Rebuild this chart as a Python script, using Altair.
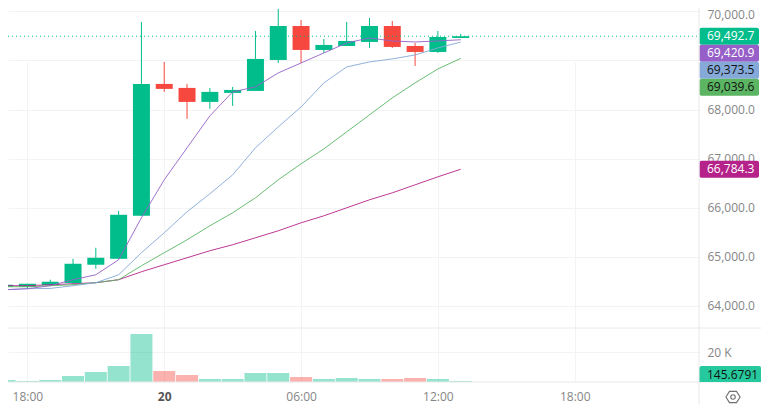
import altair as alt
import pandas as pd

FONT = "Open Sans"
UP, DOWN = "#00BD8B", "#F6483F"

# hours counted from the first 18:00 tick
hours = list(range(-1, 20))
opens = [64392, 64392, 64427, 64468, 64840, 64961, 65836, 68521, 68440, 68155, 68338, 68379, 69009, 69701, 69213, 69294, 69376, 69701, 69294, 69172, 69457]
closes = [64433, 64453, 64494, 64860, 64982, 65857, 68521, 68420, 68155, 68359, 68399, 69030, 69701, 69213, 69315, 69396, 69701, 69274, 69172, 69477, 69492.7]
highs = [64453, 64453, 64535, 64961, 65186, 65938, 69782, 68969, 68521, 68440, 68460, 69599, 70047, 69823, 69437, 69782, 69864, 69803, 69355, 69599, 69538]
lows = [64352, 64352, 64413, 64447, 64759, 64961, 65836, 68359, 67810, 68013, 68074, 69009, 68948, 68948, 69152, 69294, 69254, 69254, 68887, 69152, 69457]
volumes = [1330, 700, 1330, 4000, 6670, 10670, 32000, 7330, 4670, 2000, 2000, 6000, 6000, 3330, 2000, 2670, 2000, 2000, 2670, 2000, 700]
ma_purple = [64331, 64352, 64413, 64535, 64636, 64941, 65796, 66569, 67220, 67870, 68359, 68460, 68745, 68948, 69152, 69355, 69457, 69396, 69376, 69396, 69420.9]
ma_blue = [64331, 64352, 64358, 64413, 64474, 64636, 65084, 65491, 65918, 66284, 66670, 67220, 67647, 68053, 68542, 68867, 68969, 69030, 69111, 69253, 69373.5]
ma_green = [64392, 64392, 64413, 64433, 64474, 64535, 64819, 65084, 65348, 65633, 65897, 66203, 66569, 66894, 67199, 67545, 67891, 68237, 68542, 68826, 69039.6]
ma_magenta = [64413, 64413, 64433, 64453, 64474, 64535, 64697, 64840, 64982, 65125, 65247, 65389, 65531, 65694, 65836, 65999, 66162, 66304, 66467, 66630, 66784.3]
price_ticks = [64000, 65000, 66000, 67000, 68000, 69000, 70000]
hour_ticks = [0, 6, 12, 18, 24]
tag_values = [69492.7, 69420.9, 69373.5, 69039.6, 66784.3]
tag_fills = [UP, "#9660C8", "#85A9D8", "#5BB562", "#B5228A"]
tag_inks = ["#ffffff", "#ffffff", "#111111", "#111111", "#ffffff"]
last_volume = "145.6791"

W, H, VH = 691, 320, 54
TOTAL_W, TOTAL_H = 753, 396
P_MIN, P_MAX = 63552, 70067
X_DOM = [-0.851, 29.45]
GRID = "#F3F3F3"
EDGE = "#E8E8E8"
LABEL = "#868686"

candles = pd.DataFrame({"h": hours, "o": opens, "c": closes, "hi": highs, "lo": lows, "v": volumes})
candles["dir"] = ["up" if c >= o else "down" for o, c in zip(opens, closes)]
dir_color = alt.Color("dir:N", scale=alt.Scale(domain=["up", "down"], range=[UP, DOWN]), legend=None)

x_scale = alt.Scale(domain=X_DOM, nice=False, zero=False, padding=0)
y_scale = alt.Scale(domain=[P_MIN, P_MAX], nice=False, zero=False, padding=0, range=[H, 0])
vol_scale = alt.Scale(domain=[0, 36000], nice=False, zero=True, padding=0, range=[H + VH, H])

label_expr = ("datum.value==6 ? '20' : (((18+datum.value)%24<10?'0':'')+((18+datum.value)%24)+':00')")
x_axis = alt.Axis(values=hour_ticks, grid=True, gridColor=GRID, ticks=False, domain=False, title=None,
                  labelExpr=label_expr, labelFont=FONT, labelFontSize=12, labelPadding=9,
                  labelColor={"condition": {"test": "datum.value==6", "value": "#555555"}, "value": LABEL},
                  labelFontWeight={"condition": {"test": "datum.value==6", "value": "bold"}, "value": "normal"})
y_axis = alt.Axis(orient="right", values=price_ticks, grid=True, gridColor=GRID, ticks=False,
                  labelExpr="datum.value==69000 ? '' : format(datum.value, ',.1f')",
                  domain=False, labelPadding=8, labelColor=LABEL, labelFont=FONT,
                  labelFontSize=12, labelOverlap=False, labelFlush=5, labelFlushOffset=2, title=None)
vol_axis = alt.Axis(orient="right", values=[20000], labelExpr="'20 K'", grid=True, gridColor=GRID, ticks=False,
                    domain=False, labelPadding=8, labelColor=LABEL, labelFont=FONT,
                    labelFontSize=12, title=None)
x_q = alt.X("h:Q", scale=x_scale, axis=x_axis)


def py(field, axis=None):
    return alt.Y(field, scale=y_scale, axis=axis)


base = alt.Chart(candles)
layers = [
    base.mark_rule(strokeWidth=1, clip=True).encode(x=x_q, y=py("lo:Q", y_axis), y2="hi:Q", color=dir_color),
    base.mark_bar(size=17, clip=True).encode(x=x_q, y=py("o:Q"), y2="c:Q", color=dir_color),
    base.mark_bar(size=22, opacity=0.42, clip=True).encode(
        x=x_q, y=alt.Y("v:Q", scale=vol_scale, axis=vol_axis), color=dir_color),
]
for series, col in [(ma_magenta, "#B5228A"), (ma_green, "#5BB562"), (ma_blue, "#85A9D8"), (ma_purple, "#9660C8")]:
    df = pd.DataFrame({"h": hours, "m": series})
    layers.append(alt.Chart(df).mark_line(color=col, strokeWidth=1, opacity=0.9, clip=True).encode(x=x_q, y=py("m:Q")))

layers.append(alt.Chart(pd.DataFrame({"p": [tag_values[0]]})).mark_rule(
    color=UP, strokeWidth=1, strokeDash=[1, 3]).encode(x=alt.value(0), x2=alt.value(W), y=py("p:Q")))

# price tags: pushed down where they would overlap, as the source does
per_px = (P_MAX - P_MIN) / H
tag_h = 17 * per_px
centres = []
for v in tag_values:
    centres.append(v if not centres else min(v, centres[-1] - tag_h))
tags = pd.DataFrame({"value": tag_values, "mid": centres, "fill": tag_fills, "ink": tag_inks})
tags["top"] = tags["mid"] + tag_h / 2
tags["bot"] = tags["mid"] - tag_h / 2
layers.append(alt.Chart(tags).mark_rect(cornerRadius=2).encode(
    x=alt.value(W + 0.5), x2=alt.value(W + 60), y=py("bot:Q"), y2="top:Q", color=alt.Color("fill:N", scale=None)))
layers.append(alt.Chart(tags).mark_text(align="left", baseline="middle", font=FONT, fontSize=12).encode(
    x=alt.value(W + 8), y=py("mid:Q"), text=alt.Text("value:Q", format=",.1f"), color=alt.Color("ink:N", scale=None)))

# volume tag, pane separators and settings icon
one = alt.Chart(pd.DataFrame({"label": [last_volume]}))
B = H + VH
layers += [
    one.mark_rule(color=EDGE).encode(x=alt.value(0), x2=alt.value(TOTAL_W), y=alt.value(H)),
    one.mark_rule(color=EDGE).encode(x=alt.value(0), x2=alt.value(TOTAL_W), y=alt.value(B)),
    one.mark_rule(color=EDGE).encode(x=alt.value(W), y=alt.value(0), y2=alt.value(TOTAL_H)),
    one.mark_rect(color="#26C99D", cornerRadiusTopLeft=2, cornerRadiusTopRight=2).encode(
        x=alt.value(W + 0.5), x2=alt.value(TOTAL_W), y=alt.value(B - 16), y2=alt.value(B)),
    one.mark_text(align="left", baseline="middle", font=FONT, fontSize=12, color="#111111").encode(
        x=alt.value(W + 8), y=alt.value(B - 7), text="label:N"),
]
hexagon = "M-1,0L-0.5,-0.8L0.5,-0.8L1,0L0.5,0.8L-0.5,0.8Z"
layers += [
    one.mark_point(shape=hexagon, filled=False, color="#333333", strokeWidth=1.1, size=200).encode(
        x=alt.value(W + 34), y=alt.value(B + 15)),
    one.mark_point(shape="circle", filled=False, color="#333333", strokeWidth=1.1, size=20).encode(
        x=alt.value(W + 34), y=alt.value(B + 15)),
]

chart = alt.layer(*layers).resolve_scale(y="independent").resolve_axis(y="independent").properties(
    width=W, height=B,
    autosize=alt.AutoSizeParams(type="none"),
    padding={"left": 0, "top": 0, "right": TOTAL_W - W, "bottom": TOTAL_H - B},
).configure_view(stroke=None)
chart.save("out.html", embed_options={"renderer": "svg", "actions": False})
